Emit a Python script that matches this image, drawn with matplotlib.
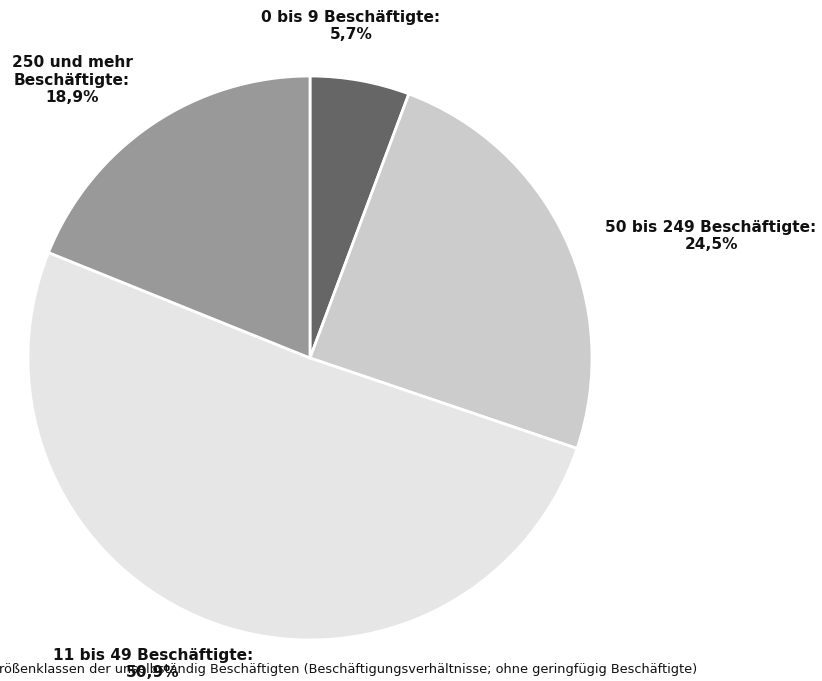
import matplotlib.pyplot as plt

categories = ["0 bis 9 Beschäftigte", "50 bis 249 Beschäftigte",
              "11 bis 49 Beschäftigte", "250 und mehr\nBeschäftigte"]
shares = [5.7, 24.5, 50.9, 18.9]
colors = ["#666666", "#cccccc", "#e6e6e6", "#999999"]
caption = ("Größenklassen der unselbständig Beschäftigten "
           "(Beschäftigungsverhältnisse; ohne geringfügig Beschäftigte)")

# label anchor points in figure pixels (center of text block)
label_pos = [(351, 26), (711, 236), (153, 664), (72, 80)]

W, H = 822, 681
fig = plt.figure(figsize=(W / 100, H / 100), dpi=100)
cx, cy, r = 310, 358, 282
ax = fig.add_axes([(cx - r) / W, (H - cy - r) / H, 2 * r / W, 2 * r / H])
ax.pie(shares, colors=colors, startangle=90, counterclock=False,
       wedgeprops=dict(edgecolor="white", linewidth=2))
ax.set_xlim(-1, 1)
ax.set_ylim(-1, 1)
ax.set_aspect("equal")
ax.axis("off")

for cat, val, (px, py) in zip(categories, shares, label_pos):
    txt = f"{cat}:\n{val:.1f}%".replace(".", ",")
    fig.text(px / W, 1 - py / H, txt, ha="center", va="center",
             fontsize=11.1, fontweight="bold", color="#111111",
             linespacing=1.2)

fig.text(697 / W, 1 - 669 / H, caption, ha="right", va="center",
         fontsize=9.3, color="#111111")

fig.savefig("out.png", dpi=100)
